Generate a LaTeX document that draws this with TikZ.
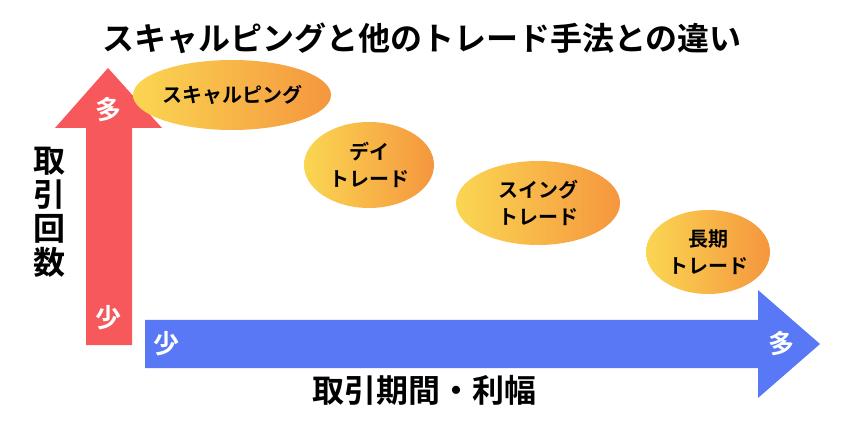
\documentclass[tikz,border=0pt]{standalone}
\usepackage{fontspec}
\usetikzlibrary{shapes.geometric}
\newfontfamily\jp{Noto Sans CJK JP Bold}
\definecolor{ylw}{RGB}{250,214,82}
\definecolor{org}{RGB}{245,150,62}
\begin{document}
\begin{tikzpicture}[x=1pt,y=-1pt,
 el/.style={ellipse,left color=ylw,right color=org,inner sep=0pt,align=center,font=\jp\fontsize{20}{27}\selectfont},
 wt/.style={text=white,font=\jp\fontsize{26}{26}\selectfont},
 lab/.style={font=\jp\fontsize{32}{34}\selectfont}]
\useasboundingbox (0,0) rectangle (844,422);
\fill[color={rgb,255:red,247;green,88;blue,91}] (86,345) -- (86,128) -- (55,128) -- (108,68) -- (162,128) -- (132,128) -- (132,345) -- cycle;
\fill[color={rgb,255:red,88;green,120;blue,245}] (145,320) -- (758,320) -- (758,290) -- (820,344) -- (758,398) -- (758,368) -- (145,368) -- cycle;
\node[el,minimum width=176,minimum height=70] (s) at (232,95) {スキャルピング};
\node[el,minimum width=130,minimum height=86] (d) at (369,165) {デイ\\トレード};
\node[el,minimum width=164,minimum height=84] (w) at (538,203) {スイング\\トレード};
\node[el,minimum width=124,minimum height=84] (l) at (708,252) {長期\\トレード};
\node[font=\jp\fontsize{32}{34}\selectfont] (t) at (422,38) {スキャルピングと他のトレード手法との違い};
\node[lab,align=center,inner sep=0pt] (y) at (50,212) {取\\引\\回\\数};
\node[lab] (x) at (424,390) {取引期間・利幅};
\node[wt] (a1) at (108,110) {多};
\node[wt] (a2) at (108,318) {少};
\node[wt] (b1) at (166,344) {少};
\node[wt] (b2) at (781,344) {多};
\end{tikzpicture}
\end{document}
